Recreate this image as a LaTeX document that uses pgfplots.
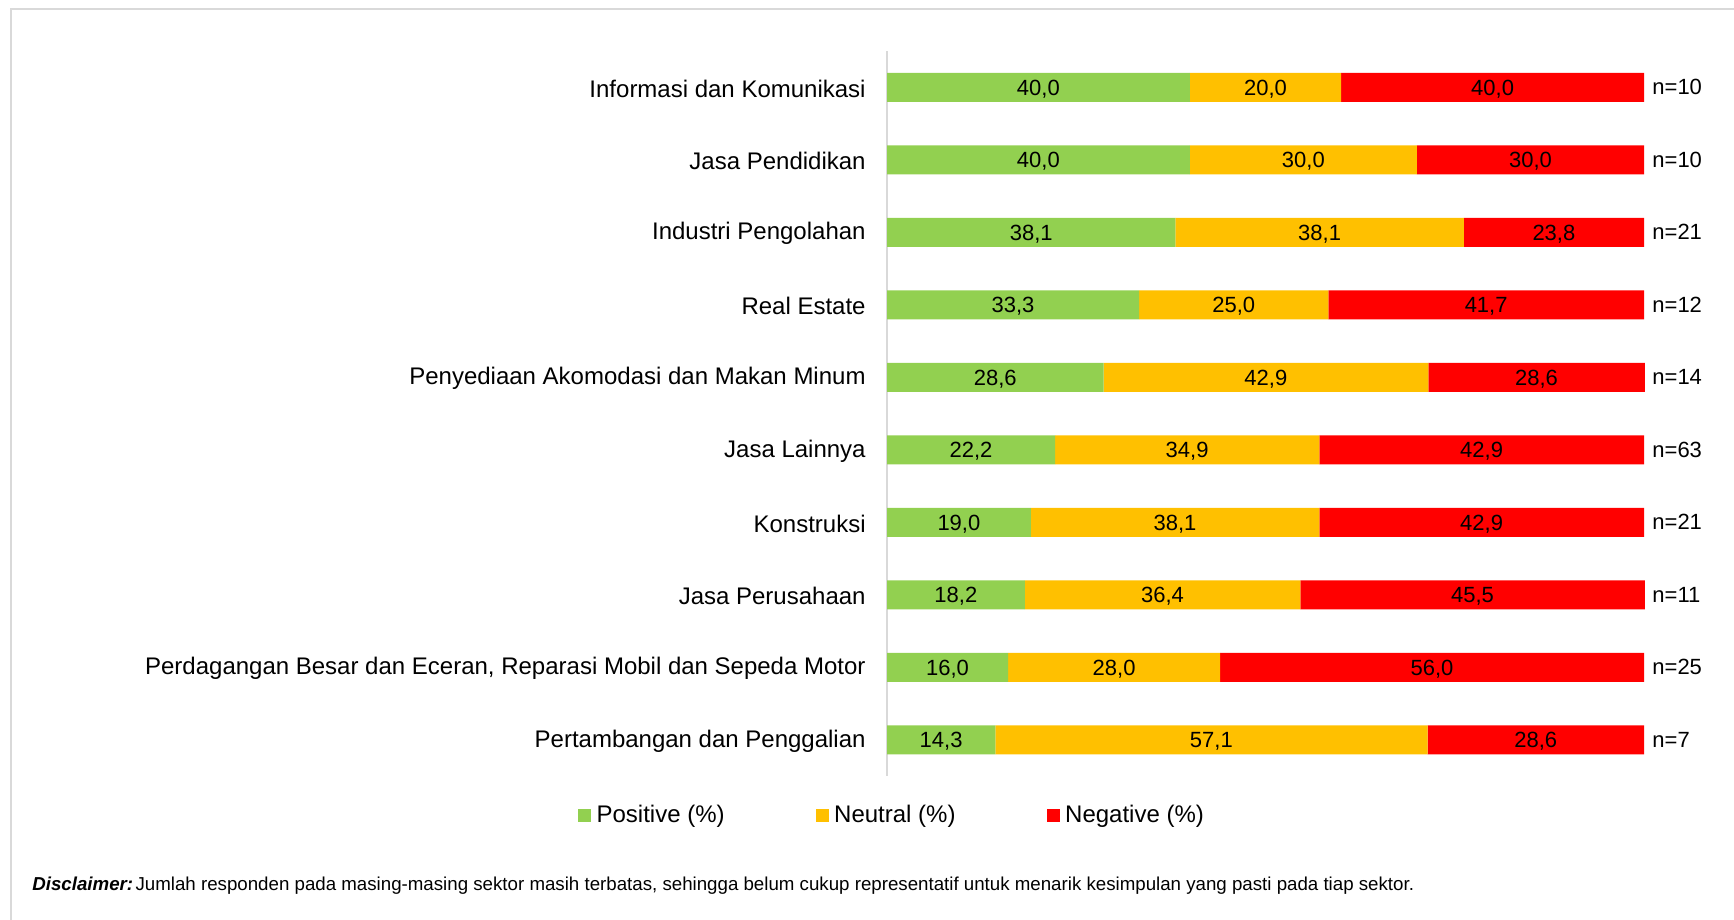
\documentclass[border=0pt]{standalone}
\usepackage{pgfplots}
\pgfplotsset{compat=1.18}
\usepackage{fontspec}
\setmainfont{Liberation Sans}

\definecolor{pos}{HTML}{92D050}
\definecolor{neu}{HTML}{FFC000}
\definecolor{negc}{HTML}{FF0000}
\definecolor{axisgray}{HTML}{D9D9D9}

% one row per sector, top to bottom
\pgfplotstableread{
y pos neu neg
0 40.0 20.0 40.0
1 40.0 30.0 30.0
2 38.1 38.1 23.8
3 33.3 25.0 41.7
4 28.6 42.9 28.6
5 22.2 34.9 42.9
6 19.0 38.1 42.9
7 18.2 36.4 45.5
8 16.0 28.0 56.0
9 14.3 57.1 28.6
}\sectors

\begin{document}
\begin{tikzpicture}[x=1pt,y=1pt]
\useasboundingbox (0,0) rectangle (867,-460);
\draw[axisgray, line width=1pt] (5.5,-460) -- (5.5,-4.5) -- (867,-4.5);

\begin{axis}[
    at={(443.5pt,-25.5pt)}, anchor=north west,
    scale only axis, width=378.5pt, height=362.5pt,
    xmin=0, xmax=100, ymin=-0.5, ymax=9.5,
    y dir=reverse,
    clip=false,
    xbar stacked, bar width=14.5pt,
    axis x line=none, axis y line=left,
    y axis line style={-, draw=axisgray, line width=0.8pt},
    major tick length=0pt,
    ytick={0,...,9},
    yticklabels={Informasi dan Komunikasi, Jasa Pendidikan, Industri Pengolahan,
        Real Estate, Penyediaan Akomodasi dan Makan Minum, Jasa Lainnya,
        Konstruksi, Jasa Perusahaan,
        {Perdagangan Besar dan Eceran, Reparasi Mobil dan Sepeda Motor},
        Pertambangan dan Penggalian},
    yticklabel style={font=\fontsize{12}{14}\selectfont, inner sep=0pt, xshift=-10.5pt, yshift=-0.6pt},
    nodes near coords,
    point meta=explicit,
    every node near coord/.append style={font=\fontsize{11}{13}\selectfont, text=black, yshift=-0.8pt},
    /pgf/number format/.cd, use comma, fixed, fixed zerofill, precision=1, assume math mode=true,
    /pgfplots/.cd,
    legend columns=3,
    legend image code/.code={\fill[#1, draw=none] (0pt,-3.25pt) rectangle (6.5pt,3.25pt);},
    legend style={at={(axis description cs:0,0)}, anchor=west, xshift=-154.5pt, yshift=-19.5pt,
        draw=none, fill=none, inner sep=0pt,
        font=\fontsize{12}{14}\selectfont,
        nodes={inner sep=1.2pt},
        /tikz/every odd column/.append style={column sep=1.4pt},
        /tikz/every even column/.append style={column sep=44.5pt}},
]
\addplot[fill=pos, draw=none] table[x=pos, y=y, meta=pos] {\sectors};
\addlegendentry{Positive (\%)}
\addplot[fill=neu, draw=none] table[x=neu, y=y, meta=neu] {\sectors};
\addlegendentry{Neutral (\%)}
\addplot[fill=negc, draw=none] table[x=neg, y=y, meta=neg] {\sectors};
\addlegendentry{Negative (\%)}
\end{axis}

\begin{axis}[
    at={(443.5pt,-25.5pt)}, anchor=north west,
    scale only axis, width=378.5pt, height=362.5pt,
    xmin=0, xmax=100, ymin=-0.5, ymax=9.5,
    y dir=reverse,
    axis x line=none, axis y line=right,
    y axis line style={draw=none},
    major tick length=0pt,
    ytick={0,...,9},
    yticklabels={n=10, n=10, n=21, n=12, n=14, n=63, n=21, n=11, n=25, n=7},
    yticklabel style={font=\fontsize{11}{13}\selectfont, anchor=west, inner sep=0pt, xshift=4pt},
]
\end{axis}

\node[anchor=west, inner sep=0pt, font=\fontsize{9.35}{11}\selectfont] at (16,-443)
    {\textbf{\textit{Disclaimer:}}\hspace{1.2pt}Jumlah responden pada masing-masing sektor masih terbatas, sehingga belum cukup representatif untuk menarik kesimpulan yang pasti pada tiap sektor.};
\end{tikzpicture}
\end{document}
